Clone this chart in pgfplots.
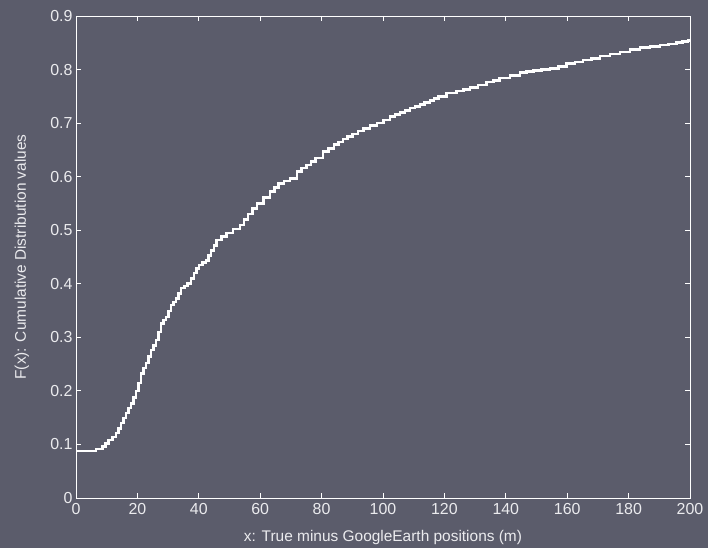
\documentclass[border=0pt]{standalone}
\usepackage{pgfplots}
\pgfplotsset{compat=1.18}
\usepackage{fontspec}
\setmainfont{Liberation Sans}
\definecolor{bgc}{RGB}{91,92,107}
\definecolor{txt}{RGB}{235,235,238}
\begin{document}
\begin{tikzpicture}[x=1bp,y=1bp]
\fill[bgc] (0,0) rectangle (708,548);
\useasboundingbox (0,0) rectangle (708,548);
\begin{axis}[
  at={(76bp,50bp)}, anchor=south west,
  scale only axis, width=614bp, height=482bp,
  xmin=0, xmax=200, ymin=0, ymax=0.9,
  xtick={0,20,...,200},
  ytick={0,0.1,...,0.9},
  yticklabels={0,0.1,0.2,0.3,0.4,0.5,0.6,0.7,0.8,0.9},
  tick align=inside, tick pos=both,
  major tick length=5bp,
  axis line style={white, line width=0.9bp},
  every tick/.style={white, line width=0.9bp},
  tick label style={font=\fontsize{16}{18}\selectfont, text=txt},
  label style={font=\fontsize{15.5}{18}\selectfont, text=txt},
  /pgf/number format/assume math mode=true,
  xticklabel style={yshift=-2bp},
  yticklabel style={xshift=0bp},
  xlabel={x: True minus GoogleEarth positions (m)},
  ylabel={F(x): Cumulative Distribution values},
  xlabel style={at={(axis description cs:0.5,-0.081)}, anchor=center},
  ylabel style={at={(axis description cs:-0.088,0.5)}, anchor=center},
  clip=true,
]
\addplot[const plot, white, line width=2.6bp] coordinates {
(0,0.0877) (5.4,0.0877) (6.5,0.0915) (8.7,0.096) (9.6,0.102) (10.5,0.108) (11.8,0.114) (13,0.121)
(13.9,0.130) (14.7,0.14) (15.5,0.149) (16.3,0.159) (17.1,0.168) (17.9,0.177) (18.7,0.188) (19.5,0.2)
(20.3,0.215) (21.2,0.233) (22,0.243) (22.8,0.252) (23.6,0.264) (24.4,0.276) (25.2,0.285) (26,0.295)
(26.8,0.31) (27.7,0.326) (28.5,0.332) (29.3,0.338) (30.1,0.349) (30.9,0.36) (31.7,0.366) (32.6,0.373)
(33.4,0.382) (34.2,0.392) (35.3,0.396) (36.4,0.401) (37.4,0.41) (38.5,0.42) (39.3,0.428) (40,0.435)
(41.2,0.44) (42.3,0.444) (43.2,0.453) (44,0.462) (44.9,0.472) (45.8,0.482) (47.4,0.488) (49,0.495)
(51.2,0.502) (53.4,0.51) (54.7,0.52) (56,0.53) (57.5,0.54) (58.9,0.55) (61,0.561) (63.2,0.572)
(64.6,0.58) (66,0.587) (67.8,0.592) (69.7,0.597) (72,0.61) (73.5,0.616) (75.1,0.622) (76.5,0.628)
(78,0.635) (80.5,0.647) (82.2,0.653) (84,0.66) (85.5,0.665) (87,0.670) (88.5,0.675) (90,0.68)
(91.8,0.685) (93.6,0.69) (95.8,0.695) (98,0.70) (100.1,0.706) (102.3,0.712) (103.9,0.716) (105.5,0.72)
(107.1,0.724) (108.8,0.728) (110.4,0.731) (112,0.735) (113.6,0.738) (115.3,0.742) (116.6,0.746)
(118,0.75) (120.7,0.756) (124,0.76) (126.2,0.763) (128.3,0.766) (131,0.771) (133.8,0.777)
(135.9,0.780) (138,0.784) (141.3,0.789) (144.6,0.794) (146.8,0.796) (149,0.798) (151.7,0.800)
(154.4,0.802) (157.1,0.806) (159.8,0.811) (162.5,0.814) (165.2,0.818) (167.9,0.821) (170.7,0.825)
(174,0.829) (177.2,0.833) (180.4,0.837) (183.7,0.841) (187,0.843) (190.2,0.846) (192.9,0.848)
(195.6,0.850) (197.5,0.852) (199.4,0.854) (200,0.854)
};
\end{axis}
\end{tikzpicture}
\end{document}
